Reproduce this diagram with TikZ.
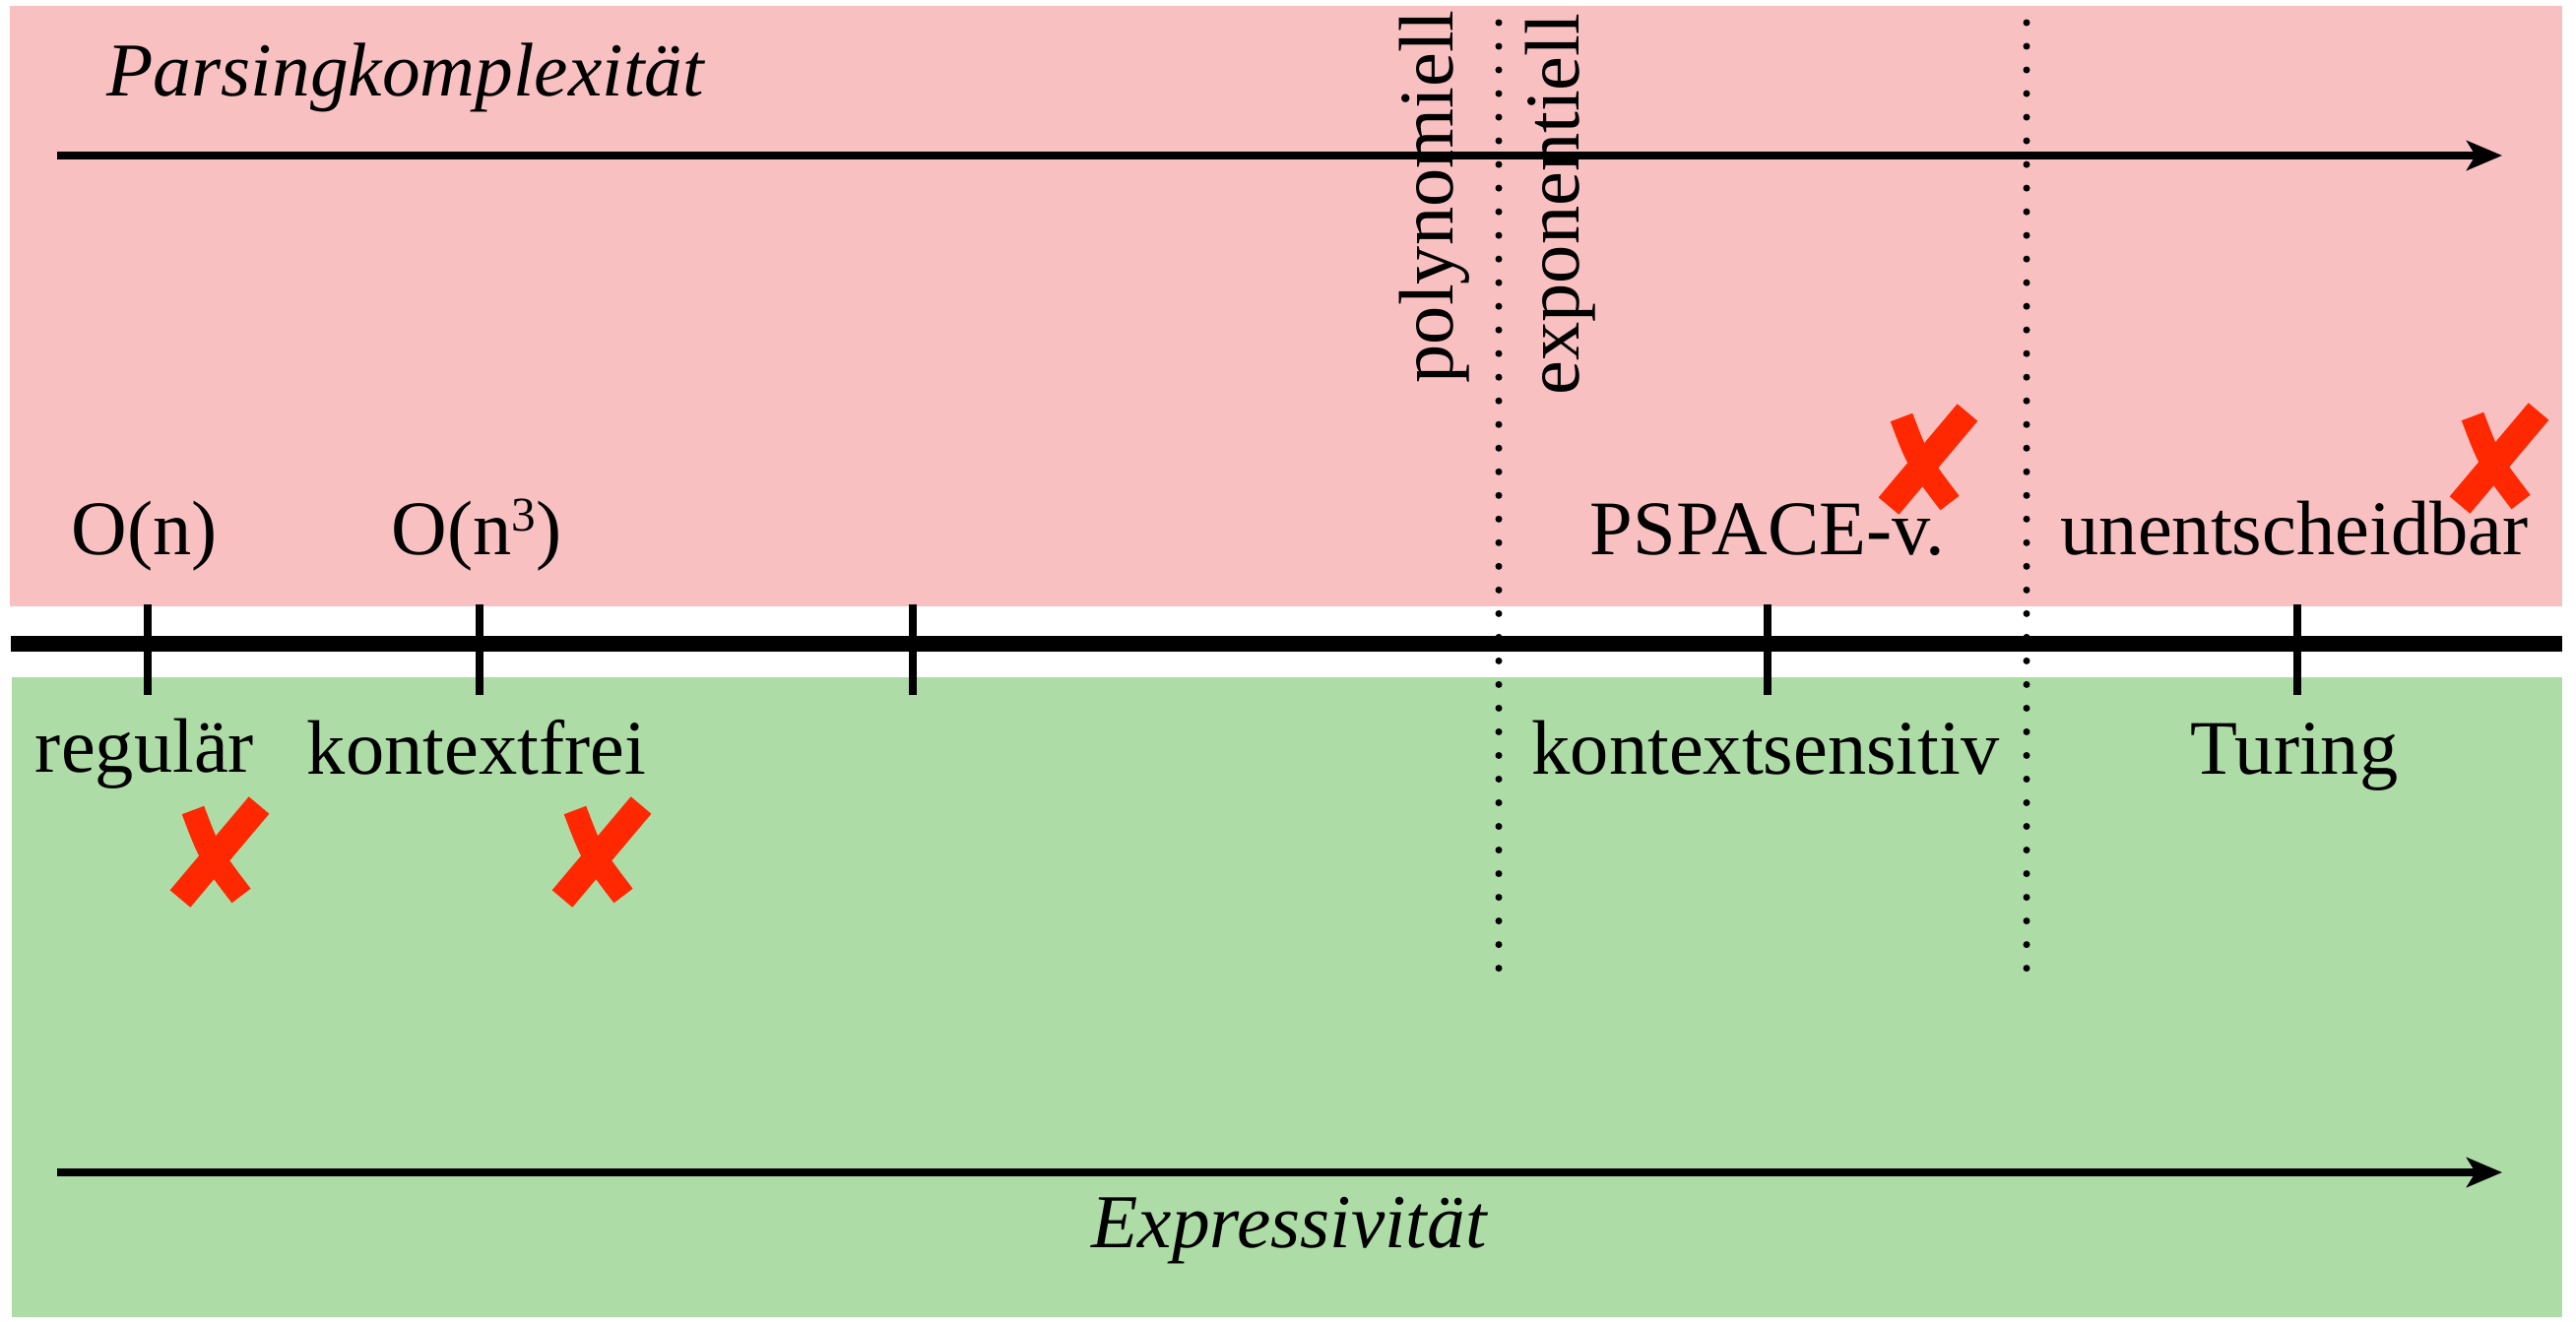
\documentclass[tikz,border=0pt]{standalone}
\usepackage{fontspec}
\setmainfont{Liberation Serif}
\usetikzlibrary{arrows.meta}
\definecolor{pinkbg}{RGB}{248,192,192}
\definecolor{greenbg}{RGB}{174,220,167}
\definecolor{crossred}{RGB}{255,40,0}
\begin{document}
\begin{tikzpicture}[x=0.01cm,y=-0.01cm,
  lbl/.style={font=\fontsize{22.3pt}{26pt}\selectfont, inner sep=0pt, anchor=base},
  ilbl/.style={lbl, font=\fontsize{22pt}{26pt}\selectfont\itshape},
  axisline/.style={line width=0.16cm},
  tickline/.style={line width=0.085cm},
  arrowline/.style={line width=0.08cm, -{Stealth[length=0.36cm,width=0.30cm,inset=0.09cm]}},
  dotline/.style={line width=0.07cm, line cap=round, dash pattern=on 0pt off 0.24cm},
  redx/.pic={
    \draw[crossred, line width=0.24cm] (-27,-45) .. controls (-10,0) .. (22,42);
    \draw[crossred, line width=0.27cm] (40,-50) -- (-40,45);
  }]
\useasboundingbox (0,0) rectangle (2616,1342);
% backgrounds
\fill[pinkbg] (10,6) rectangle (2602,616);
\fill[greenbg] (12,688) rectangle (2602,1338);
% dotted separators
\coordinate (d1t) at (1522,23); \coordinate (d1b) at (1522,992);
\coordinate (d2t) at (2058,23); \coordinate (d2b) at (2058,992);
\draw[dotline] (d1t) -- (d1b);
\draw[dotline] (d2t) -- (d2b);
% main axis
\coordinate (axl) at (11,654); \coordinate (axr) at (2602,654);
\draw[axisline] (axl) -- (axr);
% ticks
\foreach \n/\x in {t1/150,t2/487,t3/927,t4/1795,t5/2333}{
  \coordinate (\n a) at (\x,614); \coordinate (\n b) at (\x,706);
  \draw[tickline] (\n a) -- (\n b);
}
% arrows
\coordinate (pa) at (58,158); \coordinate (pb) at (2541,158);
\draw[arrowline] (pa) -- (pb);
\coordinate (ea) at (58,1191); \coordinate (eb) at (2541,1191);
\draw[arrowline] (ea) -- (eb);
% titles
\node[ilbl, anchor=base west] (parse) at (108,97) {Parsingkomplexität};
\node[ilbl] (expr) at (1309,1267) {Expressivität};
% upper labels
\node[lbl] (on) at (147,563) {O(n)};
\node[lbl] (on3) at (484,563) {O(n\raisebox{0.3em}{\fontsize{14pt}{16pt}\selectfont 3})};
\node[lbl] (psp) at (1795,563) {PSPACE-v.};
\node[lbl] (unent) at (2330,563) {unentscheidbar};
% lower labels
\node[lbl] (reg) at (147,784) {regulär};
\node[lbl] (kf) at (484,786) {kontextfrei};
\node[lbl] (ks) at (1793,786) {kontextsensitiv};
\node[lbl] (tur) at (2330,786) {Turing};
% rotated labels
\node[lbl, anchor=base west, rotate=90] (poly) at (1475,390) {polynomiell};
\node[lbl, anchor=base west, rotate=90] (expo) at (1603,402) {exponentiell};
% crosses
\pic at (223,868) {redx};
\pic at (611,868) {redx};
\pic at (1958,469) {redx};
\pic at (2538,468) {redx};
\end{tikzpicture}
\end{document}
